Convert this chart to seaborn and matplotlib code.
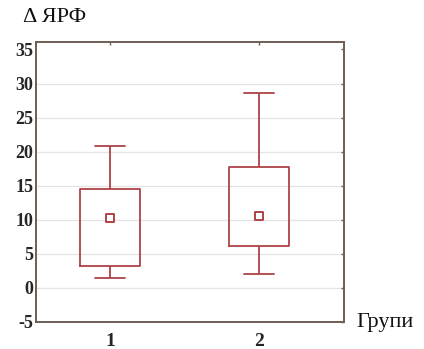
import matplotlib
matplotlib.use("Agg")
import matplotlib.pyplot as plt
import seaborn as sns
import numpy as np
import pandas as pd

# values
groups = ["1", "2"]
whisker_low = [1.5, 2.0]
box_low = [3.2, 6.1]
mean_vals = [10.2, 10.6]
box_high = [14.5, 17.7]
whisker_high = [20.9, 28.6]

y_ticks = [-5, 0, 5, 10, 15, 20, 25, 30, 35]

red = "#AE4348"
spine = "#6E5D52"

sns.set_theme(style="white")
plt.rcParams["font.family"] = ["Liberation Serif", "DejaVu Serif"]

# five points per group -> quartiles equal the box edges, whiskers the extremes
rows = []
for g, lo, q1, m, q3, hi in zip(groups, whisker_low, box_low, mean_vals, box_high, whisker_high):
    for v in (lo, q1, m, q3, hi):
        rows.append({"group": g, "value": v})
df = pd.DataFrame(rows)
means = pd.DataFrame({"group": groups, "value": mean_vals})

fig = plt.figure(figsize=(4.24, 3.49), dpi=100)
fig.patch.set_facecolor("white")
ax = fig.add_axes([0.0849, 0.0774, 0.7264, 0.8023])

sns.boxplot(data=df, x="group", y="value", order=groups, whis=np.inf, width=0.40,
            fill=False, color=red, linewidth=1.3, ax=ax,
            medianprops={"visible": False},
            capprops={"color": red}, whiskerprops={"color": red},
            boxprops={"color": red})
# caps narrower than box
for line in ax.lines:
    xd = line.get_xdata()
    if len(xd) == 2 and xd[0] != xd[1]:
        c = (xd[0] + xd[1]) / 2
        line.set_xdata([c - 0.10, c + 0.10])

sns.scatterplot(data=means, x="group", y="value", marker="s", s=28,
                facecolor="white", edgecolor=red, linewidth=1.4, ax=ax, zorder=5)

# light grid lines only inside the range (not on the frame)
for t in y_ticks[1:-1]:
    ax.axhline(t, color="#e4e4e4", lw=0.9, zorder=0)

ax.set_xlim(-0.497, 1.57)
ax.set_ylim(-5, 36.1)
ax.set_yticks(y_ticks)
ax.set_yticklabels([str(t) for t in y_ticks])
ax.set_xlabel("")
ax.set_ylabel("")
ax.tick_params(axis="both", direction="in", length=2.5, width=1, color=spine,
               labelsize=13, top=True, right=True, pad=2)
ax.tick_params(axis="x", pad=8, labelsize=14)
for lab in ax.get_xticklabels() + ax.get_yticklabels():
    lab.set_fontweight("bold")
for s in ax.spines.values():
    s.set_color(spine)
    s.set_linewidth(1.4)

fig.text(0.055, 0.95, "Δ ЯРФ", fontsize=16, ha="left", va="center", color="#111111")
fig.text(0.84, 0.077, "Групи", fontsize=16, ha="left", va="center", color="#111111")

fig.savefig("out.png", dpi=100)
